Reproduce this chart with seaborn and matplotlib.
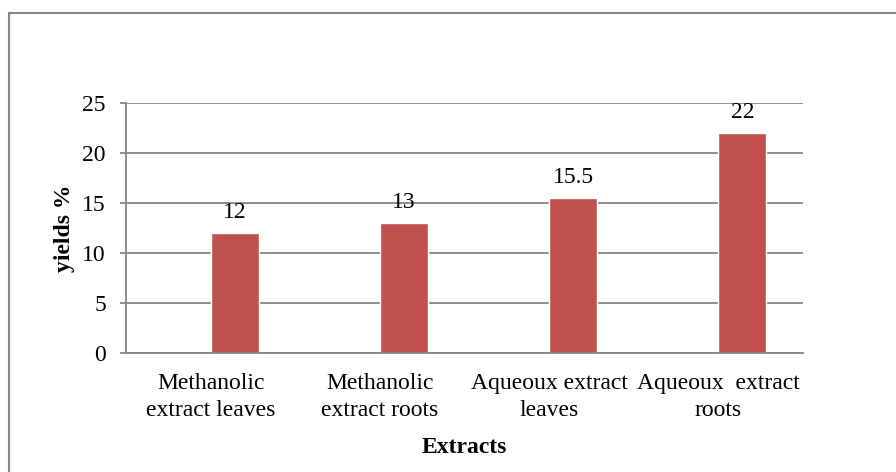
import matplotlib
matplotlib.use("Agg")
import matplotlib.pyplot as plt
from matplotlib.patches import Rectangle
import seaborn as sns
import pandas as pd

# chart data
extracts = ["Methanolic\nextract leaves", "Methanolic\nextract roots",
            "Aqueoux extract\nleaves", "Aqueoux  extract\nroots"]
yields = [12, 13, 15.5, 22]
value_labels = ["12", "13", "15.5", "22"]

df = pd.DataFrame({"Extracts": extracts, "yields %": yields})

sns.set_style("white")
plt.rcParams["font.family"] = ["Liberation Serif", "DejaVu Serif"]
plt.rcParams["text.color"] = "black"
plt.rcParams["xtick.labelcolor"] = "black"
plt.rcParams["ytick.labelcolor"] = "black"
plt.rcParams["axes.labelcolor"] = "black"

grid_col = "#868686"
bar_col = "#C0504D"
bar_w = 0.284
fs = 17

fig = plt.figure(figsize=(8.96, 4.72), dpi=100)
ax = fig.add_axes([126 / 896, 1 - 353 / 472, (803 - 126) / 896, 250 / 472])

sns.barplot(data=df, x="Extracts", y="yields %", color=bar_col,
            saturation=1, width=bar_w, ax=ax)

# bars sit just to the right of each category centre
for p in ax.patches:
    p.set_x(p.get_x() + bar_w / 2)

ax.bar_label(ax.containers[0], labels=value_labels, padding=7, fontsize=fs)

ax.set_ylim(0, 25)
ax.set_yticks(range(0, 26, 5))
ax.set_xlim(-0.5, 3.5)
ax.yaxis.grid(True, color=grid_col, lw=1.3)
ax.set_axisbelow(True)

for side in ["top", "right"]:
    ax.spines[side].set_visible(False)
for side in ["left", "bottom"]:
    ax.spines[side].set_color(grid_col)
    ax.spines[side].set_linewidth(1.3)

ax.tick_params(axis="y", left=True, length=4.5, width=1.3, color=grid_col,
               labelsize=fs, pad=10)
ax.tick_params(axis="x", bottom=False, labelsize=fs, pad=11)
for lbl in ax.get_xticklabels():
    lbl.set_linespacing(1.35)

ax.set_xlabel("Extracts", fontsize=fs, fontweight="bold", labelpad=12)
ax.set_ylabel("yields %", fontsize=fs, fontweight="bold", labelpad=5)

# outer chart frame
fig.patches.append(Rectangle((9 / 896, -0.1), 1.2, 1 - 13 / 472 + 0.1,
                             transform=fig.transFigure, fill=False,
                             edgecolor=grid_col, lw=1.5))

fig.savefig("out.png", dpi=100)
